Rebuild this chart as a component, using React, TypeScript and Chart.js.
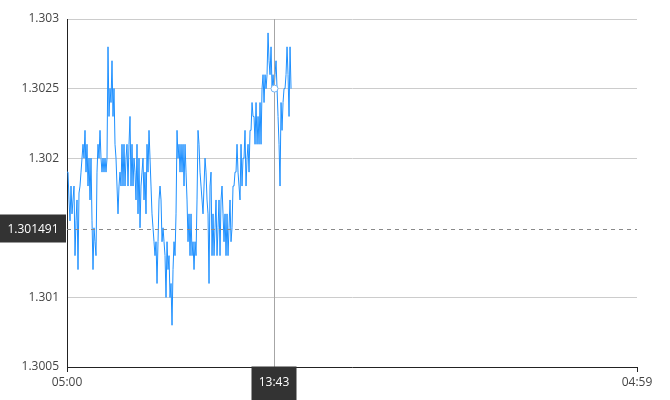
import React, { useEffect, useRef } from "react";
import { Chart, registerables } from "chart.js";

Chart.register(...registerables);

// Axis range (minutes after 05:00, covering one day)
const startTime = "05:00";
const axisMinMinutes = 0;
const axisMaxMinutes = 1439; // 04:59 next day
const stepMinutes = 2.525; // spacing between ticks of the price series

// Y axis
const yMin = 1.3005;
const yMax = 1.303;
const yStep = 0.0005;

// Crosshair
const crosshairTime = "13:43";
const crosshairPrice = 1.301491;

// Price series (one value per sample, starting at 05:00)
const prices: number[] = [
  1.3019, 1.3019, 1.3017, 1.30155, 1.3018, 1.3016, 1.3017, 1.3018, 1.3013, 1.30155,
  1.3017, 1.3012, 1.30175, 1.3018, 1.3019, 1.302, 1.3021, 1.302, 1.3022, 1.3019,
  1.3021, 1.3018, 1.302, 1.3017, 1.302, 1.30155, 1.3012, 1.3015, 1.3014, 1.3013,
  1.3019, 1.3021, 1.302, 1.3022, 1.302, 1.3019, 1.302, 1.3019,
  1.302, 1.3019, 1.302, 1.3028, 1.3023, 1.3025, 1.3024, 1.3027, 1.3023, 1.3025,
  1.3021, 1.302, 1.3018, 1.3016, 1.3018, 1.3019, 1.3018, 1.3021, 1.3018, 1.3021,
  1.3018, 1.302, 1.3021, 1.3018, 1.3021, 1.3023, 1.3018, 1.3021, 1.3018, 1.302,
  1.3019, 1.3017, 1.3021, 1.3016, 1.302, 1.3015, 1.3018,
  1.3019, 1.302, 1.3017, 1.3019, 1.3016, 1.3021, 1.3019, 1.3022, 1.302, 1.3018,
  1.3016, 1.3015, 1.3014, 1.3013, 1.3014, 1.3011, 1.3014, 1.3017, 1.3018, 1.3017,
  1.3014, 1.3015, 1.3014, 1.3013, 1.301, 1.3014, 1.3012, 1.3013, 1.301, 1.3011,
  1.3008, 1.3012, 1.3014, 1.3013, 1.3016, 1.3022, 1.302, 1.3021,
  1.3019, 1.3021, 1.3019, 1.3021, 1.3018, 1.3021, 1.3019, 1.3017, 1.3014, 1.3016,
  1.3013, 1.3016, 1.3013, 1.3014, 1.3012, 1.3014, 1.3013, 1.3017, 1.3022, 1.3021,
  1.3019, 1.3018, 1.3017, 1.3016, 1.3018, 1.302, 1.3019, 1.3017, 1.3016, 1.3011,
  1.3018, 1.3019, 1.3013, 1.3016, 1.3013, 1.3015, 1.3017, 1.3013,
  1.3015, 1.3017, 1.3013, 1.3017, 1.3018, 1.3016, 1.3014, 1.3016, 1.3013, 1.3016,
  1.3013, 1.3015, 1.3017, 1.3014, 1.3015, 1.3018, 1.3018, 1.3019, 1.3019, 1.3021,
  1.3019, 1.3018, 1.3017, 1.3021, 1.3018, 1.302, 1.302, 1.3022, 1.3018, 1.302,
  1.3021, 1.3019, 1.3022, 1.3022, 1.3024, 1.3023, 1.3023, 1.3021,
  1.3024, 1.3021, 1.3023, 1.3021, 1.3024, 1.3021, 1.3025, 1.3026, 1.3024, 1.3026,
  1.3025, 1.3026, 1.3029, 1.3027, 1.3026, 1.3028, 1.3025, 1.3026, 1.3025, 1.3026,
  1.3027, 1.3025, 1.3023, 1.3021, 1.3018, 1.3024, 1.3022, 1.3024, 1.3025, 1.3025,
  1.3026, 1.3028, 1.3026, 1.3023, 1.3028, 1.3025,
];

const pad2 = (n: number) => String(n).padStart(2, "0");
const startMinutes = (() => {
  const [h, m] = startTime.split(":").map(Number);
  return h * 60 + m;
})();
const formatMinutes = (v: number) => {
  const total = (startMinutes + Math.round(v)) % 1440;
  return `${pad2(Math.floor(total / 60))}:${pad2(total % 60)}`;
};
const crosshairMinutes = (() => {
  const [h, m] = crosshairTime.split(":").map(Number);
  return (h * 60 + m - startMinutes + 1440) % 1440;
})();

const FONT = "'Open Sans', 'DejaVu Sans', sans-serif";

const crosshairPlugin = {
  id: "crosshair",
  afterDraw(chart: any) {
    const { ctx, chartArea } = chart;
    const xs = chart.scales.x;
    const ys = chart.scales.y;
    const cx = Math.round(xs.getPixelForValue(crosshairMinutes)) + 0.5;
    const hy = Math.round(ys.getPixelForValue(crosshairPrice)) + 0.5;
    ctx.save();
    // horizontal dashed line
    ctx.lineWidth = 1;
    ctx.strokeStyle = "#8a8a8a";
    ctx.setLineDash([4, 4]);
    ctx.beginPath();
    ctx.moveTo(chartArea.left, hy);
    ctx.lineTo(chartArea.right, hy);
    ctx.stroke();
    // vertical line
    ctx.setLineDash([]);
    ctx.strokeStyle = "#a6a6a6";
    ctx.beginPath();
    ctx.moveTo(cx, chartArea.top);
    ctx.lineTo(cx, chartArea.bottom);
    ctx.stroke();
    // marker at nearest data point
    const data = chart.data.datasets[0].data as { x: number; y: number }[];
    let best = data[0];
    for (const p of data) {
      if (Math.abs(p.x - crosshairMinutes) < Math.abs(best.x - crosshairMinutes)) best = p;
    }
    const mx = cx;
    const my = ys.getPixelForValue(best.y);
    ctx.beginPath();
    ctx.arc(mx, my, 3.5, 0, Math.PI * 2);
    ctx.fillStyle = "#ffffff";
    ctx.fill();
    ctx.strokeStyle = "#6fb3f5";
    ctx.stroke();
    // y label box
    ctx.fillStyle = "#333333";
    ctx.fillRect(0, hy - 15, 66, 28);
    ctx.fillStyle = "#ffffff";
    ctx.font = `12px ${FONT}`;
    ctx.textAlign = "center";
    ctx.textBaseline = "middle";
    ctx.fillText(crosshairPrice.toFixed(6), 33, hy);
    // x label box
    ctx.fillStyle = "#333333";
    ctx.fillRect(cx - 23, chartArea.bottom - 0.5, 45, 40);
    ctx.fillStyle = "#ffffff";
    ctx.fillText(crosshairTime, cx - 0.5, chartArea.bottom + 15.5);
    ctx.restore();
  },
};

export default function App() {
  const canvasRef = useRef<HTMLCanvasElement | null>(null);

  useEffect(() => {
    if (!canvasRef.current) return;
    const points = prices.map((p, i) => ({ x: i * stepMinutes, y: p }));
    const chart = new Chart(canvasRef.current, {
      type: "line",
      data: {
        datasets: [
          {
            data: points,
            borderColor: "#1E90FF",
            borderWidth: 1,
            pointRadius: 0,
            tension: 0,
            fill: false,
          },
        ],
      },
      options: {
        animation: false,
        responsive: false,
        devicePixelRatio: 1,
        layout: { padding: { top: 19, right: 33, left: 0, bottom: 0 } },
        plugins: {
          legend: { display: false },
          tooltip: { enabled: false },
        },
        events: [],
        scales: {
          x: {
            type: "linear",
            min: axisMinMinutes,
            max: axisMaxMinutes,
            afterBuildTicks: (scale: any) => {
              scale.ticks = [{ value: axisMinMinutes }, { value: axisMaxMinutes }];
            },
            afterFit: (scale: any) => {
              scale.height = 33;
            },
            grid: {
              drawOnChartArea: false,
              drawTicks: true,
              tickLength: 5,
              tickColor: "#222222",
            },
            border: { display: true, color: "#222222", width: 1 },
            ticks: {
              autoSkip: false,
              maxRotation: 0,
              padding: 3,
              color: "#444444",
              font: { family: FONT, size: 12 },
              callback: (v: any) => formatMinutes(Number(v)),
            },
          },
          y: {
            type: "linear",
            min: yMin,
            max: yMax,
            afterFit: (scale: any) => {
              scale.width = 67;
            },
            grid: {
              drawTicks: false,
              color: (c: any) =>
                Math.abs(c.tick.value - 1.3015) < 1e-7 ? "rgba(0,0,0,0)" : "#cccccc",
            },
            border: { display: true, color: "#222222", width: 1 },
            ticks: {
              stepSize: yStep,
              padding: 8,
              color: "#444444",
              font: { family: FONT, size: 12 },
              callback: (v: any) => String(parseFloat(Number(v).toFixed(4))),
            },
          },
        },
      },
      plugins: [crosshairPlugin],
    });
    return () => chart.destroy();
  }, []);

  return (
    <div style={{ position: "fixed", left: 0, top: 0, width: 670, height: 400, background: "#ffffff" }}>
      <canvas ref={canvasRef} width={670} height={400} style={{ display: "block", width: 670, height: 400 }} />
    </div>
  );
}
